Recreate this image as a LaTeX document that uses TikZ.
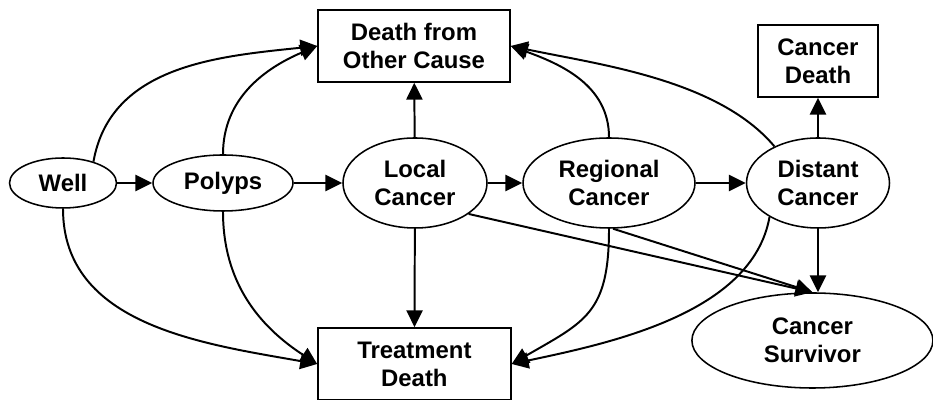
\documentclass[tikz,border=0pt]{standalone}
\usepackage{fontspec}
\setmainfont{Liberation Sans}
\usetikzlibrary{shapes.geometric}
\usetikzlibrary{arrows.meta}

\begin{document}
\begin{tikzpicture}[
        state/.style={draw, ellipse, line width=1.1pt, inner sep=0pt, align=center, font=\fontsize{17}{20}\selectfont\bfseries},
        box/.style={draw, rectangle, line width=1.1pt, inner sep=0pt, align=center, font=\fontsize{17}{20}\selectfont\bfseries},
        arr/.style={line width=1.4pt, -{Triangle[length=12pt, width=11.5pt]}}
    ]
        \useasboundingbox (0,0) rectangle (23.325,10);

        \node [state, minimum width=2.675cm, minimum height=1.25cm] (well) at (1.575,5.425) {Well};
        \node [state, minimum width=3.5cm, minimum height=1.4cm] (polyps) at (5.575,5.425) {Polyps};
        \node [state, minimum width=3.6cm, minimum height=2.25cm] (local) at (10.375,5.425) {Local\\Cancer};
        \node [state, minimum width=4.3cm, minimum height=2.25cm] (regional) at (15.225,5.425) {Regional\\Cancer};
        \node [state, minimum width=3.575cm, minimum height=2.25cm] (distant) at (20.45,5.425) {Distant\\Cancer};
        \node [state, minimum width=6.025cm, minimum height=2.375cm] (survivor) at (20.31,1.4875) {Cancer\\Survivor};

        \node [box, minimum width=4.8cm, minimum height=1.8cm] (other) at (10.35,8.85) {Death from\\Other Cause};
        \node [box, minimum width=3cm, minimum height=1.8cm] (cdeath) at (20.45,8.475) {Cancer\\Death};
        \node [box, minimum width=4.825cm, minimum height=1.8cm] (treat) at (10.36,0.9) {Treatment\\Death};

        \draw [arr] (well) -- (polyps);
        \draw [arr] (polyps) -- (local);
        \draw [arr] (local) -- (regional);
        \draw [arr] (regional) -- (distant);

        \draw [arr] (local) -- (other);
        \draw [arr] (local) -- (treat);
        \draw [arr] (distant) -- (cdeath);
        \draw [arr] (distant) -- (distant |- survivor.north);
        \draw [arr] (local.-30) -- (survivor.north);
        \draw [arr] (regional.-85) -- (survivor.north);

        \draw [arr] (well.35) to [out=80, in=186] (other.west);
        \draw [arr] (polyps.north) to [out=90, in=203] (other.west);
        \draw [arr] (regional.north) to [out=90, in=-20] (other.east);
        \draw [arr] (distant.140) to [out=130, in=-12, looseness=0.8] (other.east);

        \draw [arr] (well.south) to [out=-90, in=170] (treat.west);
        \draw [arr] (polyps.south) to [out=-90, in=147] (treat.west);
        \draw [arr] (regional.south) to [out=-90, in=30, looseness=1.3] (treat.east);
        \draw [arr] (distant.215) to [out=-100, in=12, looseness=0.85] (treat.east);
    \end{tikzpicture}
\end{document}
